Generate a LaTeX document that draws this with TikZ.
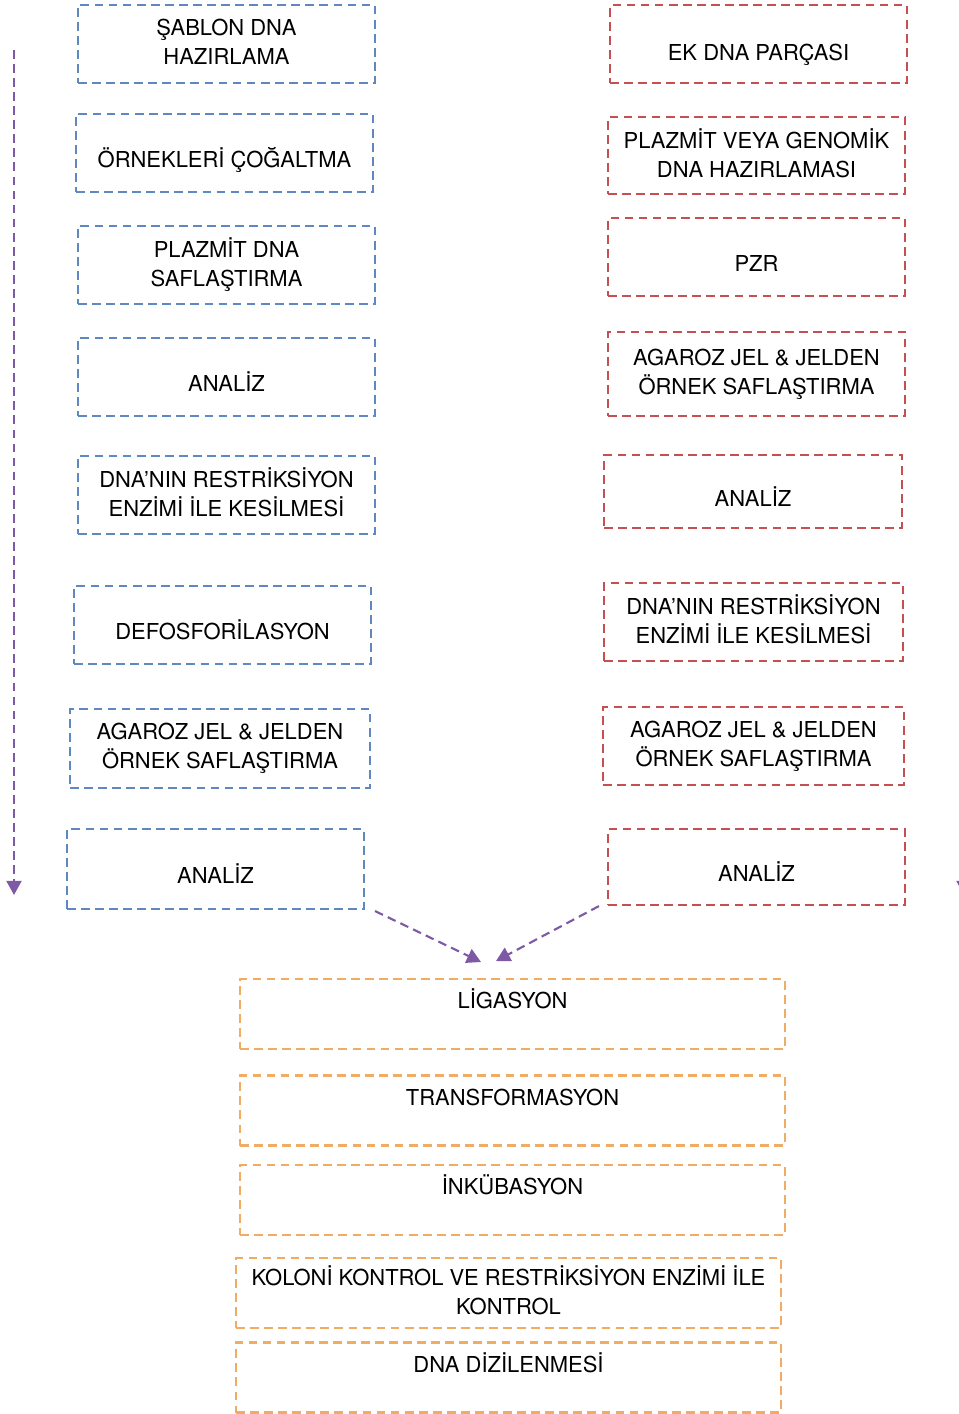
\documentclass[tikz,border=0pt]{standalone}
\usepackage{fontspec}
\setmainfont{TeX Gyre Heros}
\usepackage{tikz}
\usetikzlibrary{arrows.meta,positioning}
\definecolor{dnaBlue}{RGB}{96,136,192}
\definecolor{dnaRed}{RGB}{196,80,82}
\definecolor{dnaOrange}{RGB}{240,172,100}
\definecolor{dnaViolet}{RGB}{126,90,166}

\begin{document}
\begin{tikzpicture}[x=0.02cm, y=-0.02cm,
        stepbox/.style={rectangle, line width=1.2pt, dash pattern=on 5pt off 3pt,
          font=\fontsize{12.5}{16.5}\selectfont, align=center, inner sep=2pt,
          text depth=3pt, minimum width=5.94cm, minimum height=1.56cm},
        oneline/.style={text height=17pt, text depth=0pt},
        bluebox/.style={stepbox, draw=dnaBlue},
        redbox/.style={stepbox, draw=dnaRed},
        orangebox/.style={stepbox, draw=dnaOrange, minimum width=10.9cm, minimum height=1.4cm},
        toplabel/.style={anchor=north, yshift=-3pt, text height=11pt,
          font=\fontsize{12.5}{16.5}\selectfont, align=center},
        flow/.style={dnaViolet, line width=1.2pt, dash pattern=on 5pt off 3pt,
          -{Triangle[width=8.5pt,length=8pt]}}
      ]
        \useasboundingbox (0,0) rectangle (958,1414);

        % Left column
        \node[bluebox] (l1) at (226.5,44) {ŞABLON DNA\\HAZIRLAMA};
        \node[bluebox, oneline] (l2) at (224.5,153) {ÖRNEKLERİ ÇOĞALTMA};
        \node[bluebox] (l3) at (226.5,265) {PLAZMİT DNA\\SAFLAŞTIRMA};
        \node[bluebox, oneline] (l4) at (226.5,377) {ANALİZ};
        \node[bluebox] (l5) at (226.5,495) {DNA’NIN RESTRİKSİYON\\ENZİMİ İLE KESİLMESİ};
        \node[bluebox, oneline] (l6) at (222.5,625) {DEFOSFORİLASYON};
        \node[bluebox, minimum width=6cm, minimum height=1.58cm] (l7) at (220,748.5)
          {AGAROZ JEL \& JELDEN\\ÖRNEK SAFLAŞTIRMA};
        \node[bluebox, oneline, minimum height=1.6cm] (l8) at (215.5,869) {ANALİZ};

        % Right column
        \node[redbox, oneline, text height=19pt] (r1) at (758.5,44) {EK DNA PARÇASI};
        \node[redbox, minimum height=1.54cm] (r2) at (756.5,155.5) {PLAZMİT VEYA GENOMİK\\DNA HAZIRLAMASI};
        \node[redbox, oneline] (r3) at (756.5,257) {PZR};
        \node[redbox, minimum height=1.68cm] (r4) at (756.5,374) {AGAROZ JEL \& JELDEN\\ÖRNEK SAFLAŞTIRMA};
        \node[redbox, oneline, minimum width=5.96cm, minimum height=1.46cm] (r5) at (753,491.5) {ANALİZ};
        \node[redbox, minimum width=5.98cm] (r6) at (753.5,622) {DNA’NIN RESTRİKSİYON\\ENZİMİ İLE KESİLMESİ};
        \node[redbox, minimum width=6.02cm] (r7) at (753.5,746) {AGAROZ JEL \& JELDEN\\ÖRNEK SAFLAŞTIRMA};
        \node[redbox, oneline, minimum height=1.52cm] (r8) at (756.5,867) {ANALİZ};

        % Common steps
        \node[orangebox, label={[toplabel]north:LİGASYON}] (o1) at (512.5,1014) {};
        \node[orangebox, label={[toplabel]north:TRANSFORMASYON}] (o2) at (512.5,1110.5) {};
        \node[orangebox, label={[toplabel]north:İNKÜBASYON}] (o3) at (512.5,1200) {};
        \node[orangebox] (o4) at (508.5,1293) {KOLONİ KONTROL VE RESTRİKSİYON ENZİMİ İLE\\KONTROL};
        \node[orangebox, label={[toplabel]north:DNA DİZİLENMESİ}] (o5) at (508.5,1377.5) {};

        % Merging arrows
        \coordinate (mergeL) at (481,962);
        \coordinate (mergeR) at (496,961);
        \draw[flow] ([xshift=0.2cm,yshift=-0.02cm]l8.south east) -- (mergeL);
        \draw[flow] ([xshift=-0.16cm]r8.south west) -- (mergeR);

        % Time arrows at the sides
        \coordinate (timeLtop) at (14,50);
        \coordinate (timeLbot) at (14,895);
        \coordinate (timeRtop) at (964,50);
        \coordinate (timeRbot) at (964,895);
        \draw[flow] (timeLtop) -- (timeLbot);
        \draw[flow] (timeRtop) -- (timeRbot);
      \end{tikzpicture}
\end{document}
